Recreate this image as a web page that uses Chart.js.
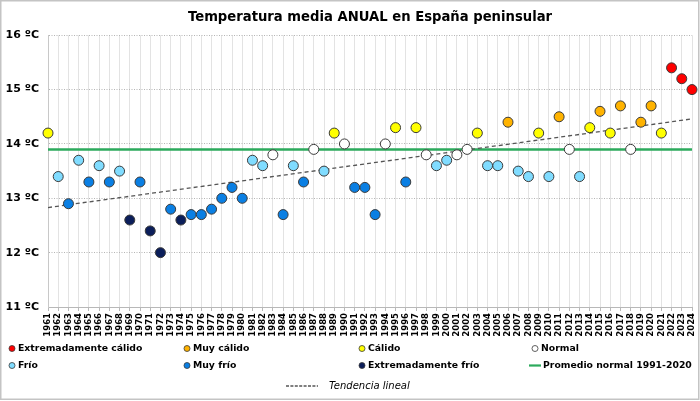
<!DOCTYPE html>
<html><head><meta charset="utf-8">
<script src="https://cdn.jsdelivr.net/npm/chart.js@4.4.1/dist/chart.umd.min.js"></script>
<style>html,body{margin:0;padding:0;background:#fff}#wrap{width:700px;height:401px;position:relative}</style>
</head><body><div id="wrap"><canvas id="c"></canvas></div>
<script>
const titleText = 'Temperatura media ANUAL en España peninsular';
const years = ['1961','1962','1963','1964','1965','1966','1967','1968','1969','1970',
 '1971','1972','1973','1974','1975','1976','1977','1978','1979','1980',
 '1981','1982','1983','1984','1985','1986','1987','1988','1989','1990',
 '1991','1992','1993','1994','1995','1996','1997','1998','1999','2000',
 '2001','2002','2003','2004','2005','2006','2007','2008','2009','2010',
 '2011','2012','2013','2014','2015','2016','2017','2018','2019','2020',
 '2021','2022','2023','2024'];
const temps = [14.2,13.4,12.9,13.7,13.3,13.6,13.3,13.5,12.6,13.3,
 12.4,12.0,12.8,12.6,12.7,12.7,12.8,13.0,13.2,13.0,
 13.7,13.6,13.8,12.7,13.6,13.3,13.9,13.5,14.2,14.0,
 13.2,13.2,12.7,14.0,14.3,13.3,14.3,13.8,13.6,13.7,
 13.8,13.9,14.2,13.6,13.6,14.4,13.5,13.4,14.2,13.4,
 14.5,13.9,13.4,14.3,14.6,14.2,14.7,13.9,14.4,14.7,
 14.2,15.4,15.2,15.0];
const classes = ['C','F','MF','F','MF','F','MF','F','EF','MF',
 'EF','EF','MF','EF','MF','MF','MF','MF','MF','MF',
 'F','F','N','MF','F','MF','N','F','C','N',
 'MF','MF','MF','N','C','MF','C','N','F','F',
 'N','N','C','F','F','MC','F','F','C','F',
 'MC','N','F','C','MC','C','MC','N','MC','MC',
 'C','EC','EC','EC'];
const classCodes = ['EC','MC','C','N','F','MF','EF'];
const classNames = ['Extremadamente cálido','Muy cálido','Cálido','Normal','Frío','Muy frío','Extremadamente frío'];
const classColors = ['#ff0000','#ffb300','#ffff00','#ffffff','#80dcff','#0a7fe3','#0b1e5a'];
const normalLabel = 'Promedio normal 1991-2020';
const normalValues = [13.9, 13.9];
const trendLabel = 'Tendencia lineal';
const trendValues = [12.83, 14.46];
const yTicks = [11,12,13,14,15,16];

const FONT = '"DejaVu Sans", Verdana, sans-serif';

const pointSets = classCodes.map((code, k) => ({
  type: 'line',
  label: classNames[k],
  data: temps.map((t, i) => classes[i] === code ? t : null),
  showLine: false,
  pointRadius: 5, pointHoverRadius: 5,
  pointBackgroundColor: classColors[k], backgroundColor: classColors[k],
  pointBorderColor: '#3a3a3a', borderColor: '#3a3a3a', pointBorderWidth: 1,
  clip: false, order: 1
}));
const normalSet = {
  type: 'line', label: normalLabel,
  data: [{x: years[0], y: normalValues[0]}, {x: years[years.length-1], y: normalValues[1]}],
  borderColor: '#2caa5c', backgroundColor: '#2caa5c', borderWidth: 2.5, pointRadius: 0, order: 3
};
const trendSet = {
  type: 'line', label: trendLabel,
  data: [{x: years[0], y: trendValues[0]}, {x: years[years.length-1], y: trendValues[1]}],
  borderColor: '#555555', backgroundColor: '#555555', borderWidth: 1.3, borderDash: [4, 3], pointRadius: 0, order: 2
};

const legendPlugin = {
  id: 'customLegend',
  afterDraw(chart) {
    const ctx = chart.ctx;
    ctx.save();
    ctx.strokeStyle = '#c4c4c4';
    ctx.lineWidth = 1.5;
    ctx.strokeRect(0.75, 0.75, 698, 398.5);
    const cols = [12, 187, 362, 535];
    const rows = [348.5, 365.5];
    const grid = [[0,1,2,3],[4,5,6,'normal']];
    ctx.textBaseline = 'middle';
    ctx.textAlign = 'left';
    ctx.font = 'bold 9.3px ' + FONT;
    grid.forEach((row, r) => {
      row.forEach((item, c) => {
        const x = cols[c], y = rows[r];
        ctx.fillStyle = '#000';
        if (item === 'normal') {
          ctx.strokeStyle = normalSet.borderColor;
          ctx.lineWidth = 2.2;
          ctx.beginPath(); ctx.moveTo(x - 6, y); ctx.lineTo(x + 6, y); ctx.stroke();
          ctx.fillText(normalSet.label, x + 8, y);
        } else {
          const ds = pointSets[item];
          ctx.beginPath(); ctx.arc(x, y, 3, 0, Math.PI * 2);
          ctx.fillStyle = ds.pointBackgroundColor; ctx.fill();
          ctx.strokeStyle = '#3a3a3a'; ctx.lineWidth = 0.8; ctx.stroke();
          ctx.fillStyle = '#000';
          ctx.fillText(ds.label, x + 6, y);
        }
      });
    });
    const ty = 386;
    ctx.strokeStyle = trendSet.borderColor;
    ctx.lineWidth = 1.3;
    ctx.setLineDash([3, 1.4]);
    ctx.beginPath(); ctx.moveTo(286, ty); ctx.lineTo(318, ty); ctx.stroke();
    ctx.setLineDash([]);
    ctx.fillStyle = '#000';
    ctx.font = 'italic 10px ' + FONT;
    ctx.fillText(trendSet.label, 329, ty);
    ctx.restore();
  }
};

new Chart(document.getElementById('c'), {
  type: 'line',
  data: { labels: years, datasets: [...pointSets, trendSet, normalSet] },
  options: {
    responsive: true, maintainAspectRatio: false, animation: false,
    devicePixelRatio: 1,
    layout: { padding: { left: 0, right: 8, top: 0, bottom: 62 } },
    plugins: {
      legend: { display: false },
      tooltip: { enabled: false },
      title: {
        display: true, text: titleText, color: '#000', fullSize: false,
        font: { family: FONT, weight: 'bold', size: 13.2 },
        padding: { top: 10, bottom: 9.4 }
      }
    },
    scales: {
      x: {
        type: 'category', offset: false,
        grid: { color: '#e3e3e3', lineWidth: 1, drawTicks: true, tickLength: 4, tickColor: '#b8b8b8' },
        border: { color: '#b8b8b8', width: 1 },
        ticks: { autoSkip: false, maxRotation: 90, minRotation: 90, padding: 2, color: '#000',
          font: { family: FONT, weight: 'bold', size: 8.5 } },
        afterFit(s) { s.height = 32; s.paddingLeft = 0; s.paddingRight = 0; }
      },
      y: {
        min: 11, max: 16,
        afterBuildTicks(s) { s.ticks = yTicks.map(v => ({ value: v })); },
        grid: { color: '#b5b5b5', lineWidth: 1, drawTicks: false },
        border: { display: true, color: '#c8c8c8', dash: [1, 1.5] },
        ticks: { padding: 9, color: '#000', font: { family: FONT, weight: 'bold', size: 11 },
          callback: v => v + ' ºC' },
        afterFit(s) { s.width = 48; }
      }
    }
  },
  plugins: [legendPlugin]
});
</script>
</body></html>
